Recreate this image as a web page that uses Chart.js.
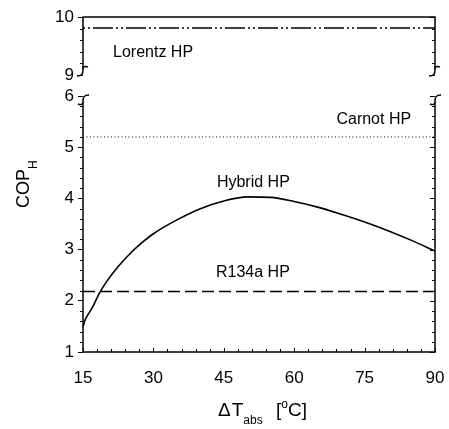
<!DOCTYPE html>
<html><head><meta charset="utf-8">
<script src="https://cdn.jsdelivr.net/npm/chart.js@4.4.1/dist/chart.umd.min.js"></script>
<style>
html,body{margin:0;padding:0;background:#fff;}
#wrap{position:relative;width:449px;height:429px;overflow:hidden;}
.box{position:absolute;left:0;top:0;width:449px;}
</style></head><body>
<div id="wrap">
  <div class="box" style="height:429px"><canvas id="cLow"></canvas></div>
  <div class="box" style="height:90px"><canvas id="cHigh"></canvas></div>
</div>
<script>
// ---- data ----
const xMin = 15, xMax = 90;
const xTicks = [15, 30, 45, 60, 75, 90];
const yLowTicks = [1, 2, 3, 4, 5, 6];
const yHighTicks = [9, 10];
const hybridT   = [15, 15.3, 16, 17, 18.5, 20, 22.5, 25, 27.5, 30, 35, 40, 45, 50, 55, 60, 65, 70, 75, 80, 85, 90];
const hybridCOP = [1.49, 1.59, 1.72, 1.87, 2.15, 2.37, 2.67, 2.92, 3.13, 3.31, 3.58, 3.80, 3.95, 4.03, 4.02, 3.94, 3.83, 3.69, 3.54, 3.37, 3.18, 2.97];
const r134aT = [15, 90],   r134aCOP = [2.18, 2.18];
const carnotT = [15, 90],  carnotCOP = [5.2, 5.2];
const lorentzT = [15, 90], lorentzCOP = [9.81, 9.81];
const seriesNames = ['Lorentz HP', 'Carnot HP', 'Hybrid HP', 'R134a HP'];

const FONT = "'Liberation Sans Narrow','Liberation Sans',Arial,sans-serif";
Chart.defaults.font.family = FONT;
Chart.defaults.font.size = 17;
Chart.defaults.color = '#000';

const pts = (xs, ys) => xs.map((v, i) => ({x: v, y: ys[i]}));

function squiggleTop(ctx, x, y) {
  ctx.beginPath();
  ctx.moveTo(x, y + 6);
  ctx.bezierCurveTo(x, y + 1, x + 1, y - 1, x + 6, y - 1);
  ctx.moveTo(x, y + 6);
  ctx.bezierCurveTo(x, y + 9, x - 3, y + 9, x - 5, y + 8);
  ctx.stroke();
}
function squiggleBottom(ctx, x, y) {
  ctx.beginPath();
  ctx.moveTo(x, y - 6);
  ctx.bezierCurveTo(x, y - 1, x - 1, y + 1, x - 6, y + 1);
  ctx.moveTo(x, y - 6);
  ctx.bezierCurveTo(x, y - 9, x + 3, y - 9, x + 5, y - 8);
  ctx.stroke();
}
function minorY(ctx, chart) {
  const {left, right} = chart.chartArea;
  const y = chart.scales.y;
  ctx.lineWidth = 1;
  ctx.beginPath();
  for (let v = Math.round(y.min * 5); v <= Math.round(y.max * 5); v++) {
    const val = v / 5;
    const p = Math.round(y.getPixelForValue(val)) + 0.5;
    const major = Math.abs(val - Math.round(val)) < 1e-6;
    if (!major) { ctx.moveTo(left - 3, p); ctx.lineTo(left, p); }
    ctx.moveTo(right, p); ctx.lineTo(right - (major ? 5 : 3), p);
  }
  ctx.stroke();
}
function label(ctx, text, x, y, align) {
  ctx.textAlign = align || 'left';
  ctx.textBaseline = 'alphabetic';
  ctx.fillText(text, x, y);
}

const lowPlugin = {
  id: 'lowPlugin',
  afterDraw(chart) {
    const {ctx, chartArea: {left, right, top, bottom}} = chart;
    const x = chart.scales.x, y = chart.scales.y;
    ctx.save();
    ctx.strokeStyle = '#000'; ctx.fillStyle = '#000';
    ctx.lineWidth = 1.5;
    ctx.beginPath();
    ctx.moveTo(left, top + 6); ctx.lineTo(left, bottom); ctx.lineTo(right, bottom); ctx.lineTo(right, top + 6);
    ctx.stroke();
    squiggleTop(ctx, left, top); squiggleTop(ctx, right, top);
    minorY(ctx, chart);
    ctx.beginPath();
    for (let v = xMin; v <= xMax; v += 3) {
      const p = Math.round(x.getPixelForValue(v)) + 0.5;
      const major = (v - xMin) % 15 === 0;
      ctx.moveTo(p, bottom); ctx.lineTo(p, bottom - (major ? 4 : 3));
    }
    ctx.stroke();
    ctx.font = "16px " + FONT;
    label(ctx, seriesNames[1], x.getPixelForValue(69.0), y.getPixelForValue(5.45));
    label(ctx, seriesNames[2], x.getPixelForValue(51.3), y.getPixelForValue(4.23), 'center');
    label(ctx, seriesNames[3], x.getPixelForValue(51.2), y.getPixelForValue(2.46), 'center');
    // y title: COP_H
    ctx.save();
    ctx.translate(29, 208);
    ctx.rotate(-Math.PI / 2);
    ctx.font = "18px " + FONT;
    label(ctx, 'COP', 0, 0);
    const w = ctx.measureText('COP').width;
    ctx.font = "12px " + FONT;
    label(ctx, 'H', w, 8);
    ctx.restore();
    // x title: ΔT_abs [°C]
    ctx.font = "19px " + FONT;
    let cx = 218;
    label(ctx, 'Δ', cx, 416);
    cx += ctx.measureText('Δ').width + 1;
    label(ctx, 'T', cx, 416);
    cx += ctx.measureText('T').width;
    ctx.font = "12px " + FONT;
    label(ctx, 'abs', cx, 424);
    cx = 276;
    ctx.font = "19px " + FONT;
    label(ctx, '[', cx, 416);
    cx += ctx.measureText('[').width;
    ctx.font = "12px " + FONT;
    label(ctx, 'o', cx, 408);
    cx += ctx.measureText('o').width;
    ctx.font = "19px " + FONT;
    label(ctx, 'C]', cx, 416);
    ctx.restore();
  }
};

const highPlugin = {
  id: 'highPlugin',
  afterDraw(chart) {
    const {ctx, chartArea: {left, right, top, bottom}} = chart;
    const x = chart.scales.x, y = chart.scales.y;
    ctx.save();
    ctx.strokeStyle = '#000'; ctx.fillStyle = '#000';
    ctx.lineWidth = 1.5;
    ctx.beginPath();
    ctx.moveTo(left, bottom - 6); ctx.lineTo(left, top); ctx.lineTo(right, top); ctx.lineTo(right, bottom - 6);
    ctx.stroke();
    squiggleBottom(ctx, left, bottom); squiggleBottom(ctx, right, bottom);
    minorY(ctx, chart);
    ctx.font = "16px " + FONT;
    label(ctx, seriesNames[0], x.getPixelForValue(21.4), y.getPixelForValue(9.31));
    ctx.restore();
  }
};

const yAxisCommon = (min, max) => ({
  type: 'linear', min: min, max: max,
  ticks: {stepSize: 1, padding: 4, font: {size: 17}, color: '#000'},
  grid: {drawOnChartArea: false, tickLength: 5, tickColor: '#000', tickWidth: 1},
  border: {display: false},
  afterFit(s) { s.width = 83; }
});

new Chart(document.getElementById('cLow'), {
  type: 'line',
  data: {
    datasets: [
      {label: seriesNames[1], data: pts(carnotT, carnotCOP), borderColor: '#000', borderWidth: 1, borderDash: [1, 2.5], pointRadius: 0, fill: false},
      {label: seriesNames[2], data: pts(hybridT, hybridCOP), borderColor: '#000', borderWidth: 1.6, cubicInterpolationMode: 'monotone', pointRadius: 0, fill: false},
      {label: seriesNames[3], data: pts(r134aT, r134aCOP), borderColor: '#000', borderWidth: 1.5, borderDash: [12, 5], pointRadius: 0, fill: false}
    ]
  },
  options: {
    responsive: true, maintainAspectRatio: false, animation: false,
    layout: {padding: {top: 96, right: 14, left: 0, bottom: 0}},
    plugins: {legend: {display: false}, tooltip: {enabled: false}},
    scales: {
      x: {type: 'linear', min: xMin, max: xMax,
          afterBuildTicks(s) { s.ticks = xTicks.map(v => ({value: v})); },
          ticks: {padding: 0, font: {size: 17}, color: '#000', maxRotation: 0},
          grid: {display: true, drawOnChartArea: false, drawTicks: true, tickLength: 16, tickColor: 'rgba(0,0,0,0)'},
          border: {display: false},
          afterFit(s) { s.height = 77; }},
      y: Object.assign(yAxisCommon(1, 6), {afterBuildTicks(s) { s.ticks = yLowTicks.map(v => ({value: v})); }})
    }
  },
  plugins: [lowPlugin]
});

new Chart(document.getElementById('cHigh'), {
  type: 'line',
  data: {
    datasets: [
      {label: seriesNames[0], data: pts(lorentzT, lorentzCOP), borderColor: '#000', borderWidth: 1.5, borderDash: [20, 3, 2, 3, 2, 3], borderDashOffset: 23, pointRadius: 0, fill: false}
    ]
  },
  options: {
    responsive: true, maintainAspectRatio: false, animation: false,
    layout: {padding: {top: 17, right: 14, left: 0, bottom: 15}},
    plugins: {legend: {display: false}, tooltip: {enabled: false}},
    scales: {
      x: {type: 'linear', min: xMin, max: xMax, display: false},
      y: Object.assign(yAxisCommon(9, 10), {afterBuildTicks(s) { s.ticks = yHighTicks.map(v => ({value: v})); }})
    }
  },
  plugins: [highPlugin]
});
</script>
</body></html>
